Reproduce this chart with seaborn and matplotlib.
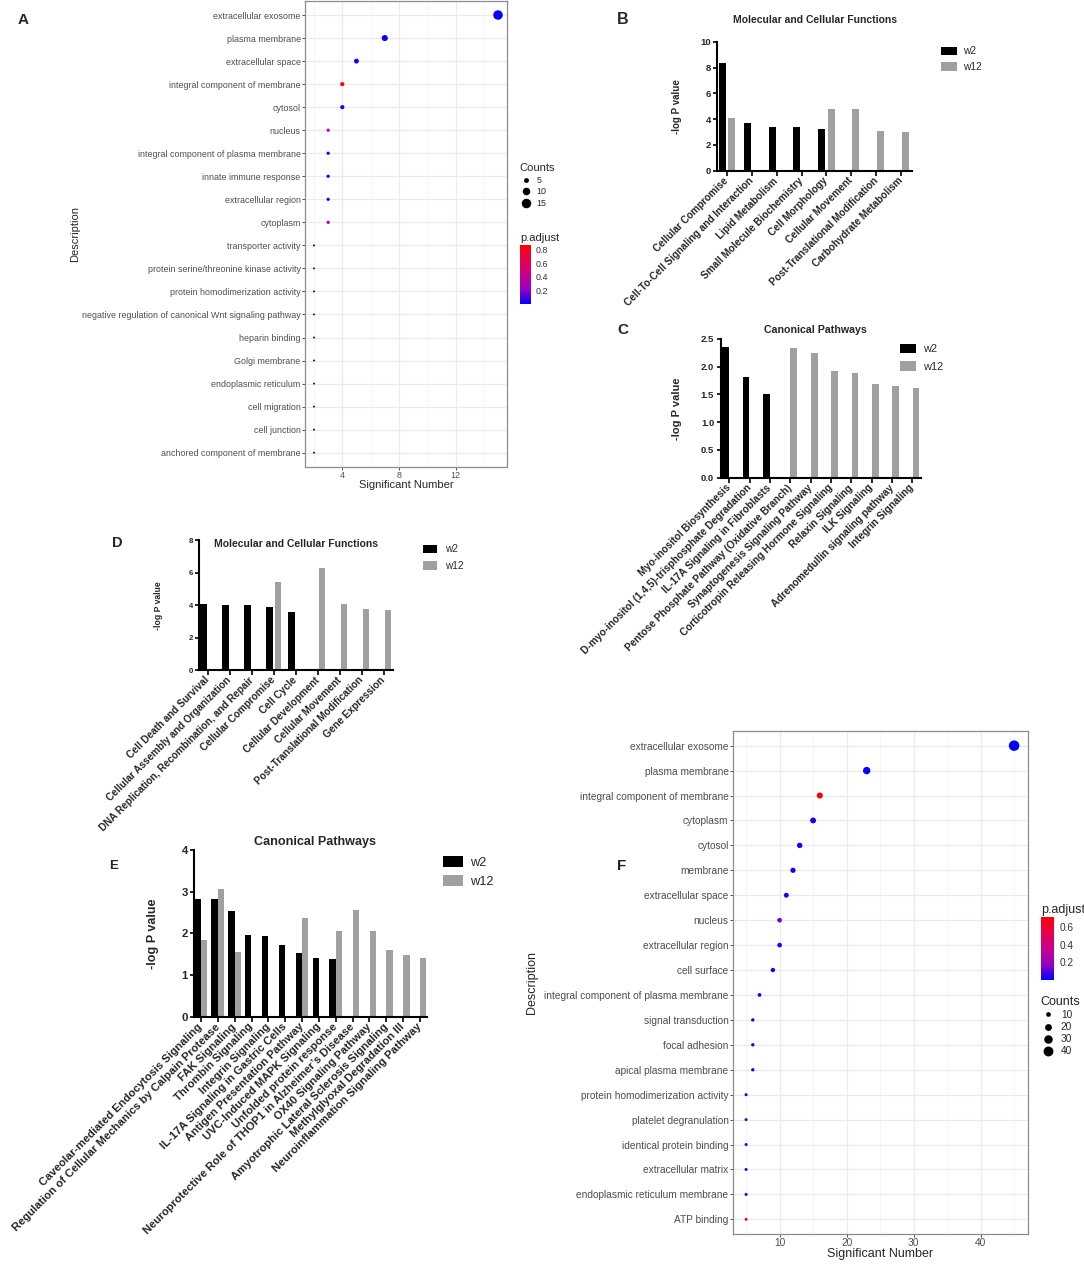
import numpy as np
import pandas as pd
import matplotlib
matplotlib.use("Agg")
import matplotlib.pyplot as plt
import seaborn as sns
from matplotlib.cm import ScalarMappable
from matplotlib.colors import LinearSegmentedColormap, Normalize
from matplotlib.lines import Line2D
from matplotlib.patches import Patch

nan = np.nan

# A: GO terms, first time point
a_terms = ["extracellular exosome", "plasma membrane", "extracellular space",
           "integral component of membrane", "cytosol", "nucleus",
           "integral component of plasma membrane", "innate immune response",
           "extracellular region", "cytoplasm", "transporter activity",
           "protein serine/threonine kinase activity", "protein homodimerization activity",
           "negative regulation of canonical Wnt signaling pathway", "heparin binding",
           "Golgi membrane", "endoplasmic reticulum", "cell migration", "cell junction",
           "anchored component of membrane"]
a_counts = [15, 7, 5, 4, 4, 3, 3, 3, 3, 3, 2, 2, 2, 2, 2, 2, 2, 2, 2, 2]
a_padj = [0.01, 0.02, 0.03, 0.86, 0.03, 0.30, 0.04, 0.04, 0.04, 0.32,
          0.05, 0.05, 0.05, 0.05, 0.05, 0.05, 0.05, 0.05, 0.05, 0.05]

# F: GO terms, second time point
f_terms = ["extracellular exosome", "plasma membrane", "integral component of membrane",
           "cytoplasm", "cytosol", "membrane", "extracellular space", "nucleus",
           "extracellular region", "cell surface", "integral component of plasma membrane",
           "signal transduction", "focal adhesion", "apical plasma membrane",
           "protein homodimerization activity", "platelet degranulation",
           "identical protein binding", "extracellular matrix",
           "endoplasmic reticulum membrane", "ATP binding"]
f_counts = [45, 23, 16, 15, 13, 12, 11, 10, 10, 9, 7, 6, 6, 6, 5, 5, 5, 5, 5, 5]
f_padj = [0.0, 0.01, 0.72, 0.02, 0.02, 0.02, 0.03, 0.14, 0.03, 0.03,
          0.03, 0.04, 0.04, 0.04, 0.04, 0.04, 0.04, 0.04, 0.04, 0.42]

# B: molecular and cellular functions
b_terms = ["Cellular Compromise", "Cell-To-Cell Signaling and Interaction", "Lipid Metabolism",
           "Small Molecule Biochemistry", "Cell Morphology", "Cellular Movement",
           "Post-Translational Modification", "Carbohydrate Metabolism"]
b_w2 = [8.35, 3.72, 3.36, 3.36, 3.20, nan, nan, nan]
b_w12 = [4.06, nan, nan, nan, 4.75, 4.75, 3.08, 2.97]

# C: canonical pathways
c_terms = ["Myo-inositol Biosynthesis", "D-myo-inositol (1,4,5)-trisphosphate Degradation",
           "IL-17A Signaling in Fibroblasts", "Pentose Phosphate Pathway (Oxidative Branch)",
           "Synaptogenesis Signaling Pathway", "Corticotropin Releasing Hormone Signaling",
           "Relaxin Signaling", "ILK Signaling", "Adrenomedullin signaling pathway",
           "Integrin Signaling"]
c_w2 = [2.36, 1.82, 1.51, nan, nan, nan, nan, nan, nan, nan]
c_w12 = [nan, nan, nan, 2.33, 2.25, 1.92, 1.89, 1.69, 1.66, 1.61]

# D: molecular and cellular functions
d_terms = ["Cell Death and Survival", "Cellular Assembly and Organization",
           "DNA Replication, Recombination, and Repair", "Cellular Compromise", "Cell Cycle",
           "Cellular Development", "Cellular Movement", "Post-Translational Modification",
           "Gene Expression"]
d_w2 = [4.07, 3.99, 3.99, 3.91, 3.56, nan, nan, nan, nan]
d_w12 = [nan, nan, nan, 5.41, nan, 6.28, 4.06, 3.75, 3.69]

# E: canonical pathways
e_terms = ["Caveolar-mediated Endocytosis Signaling",
           "Regulation of Cellular Mechanics by Calpain Protease", "FAK Signaling",
           "Thrombin Signaling", "Integrin Signaling", "IL-17A Signaling in Gastric Cells",
           "Antigen Presentation Pathway", "UVC-Induced MAPK Signaling",
           "Unfolded protein response", "Neuroprotective Role of THOP1 in Alzheimer\u2019s Disease",
           "OX40 Signaling Pathway", "Amyotrophic Lateral Sclerosis Signaling",
           "Methylglyoxal Degradation III", "Neuroinflammation Signaling Pathway"]
e_w2 = [2.82, 2.82, 2.54, 1.96, 1.94, 1.71, 1.54, 1.41, 1.39, nan, nan, nan, nan, nan]
e_w12 = [1.85, 3.07, 1.56, nan, nan, nan, 2.37, nan, 2.06, 2.56, 2.06, 1.61, 1.47, 1.42]

W, H = 1084, 1265
sns.set_theme(style="white")
plt.rcParams["font.family"] = ["Liberation Sans", "DejaVu Sans"]

BAR_COLORS = {"w2": "#000000", "w12": "#A0A0A0"}
go_cmap = LinearSegmentedColormap.from_list(
    "go", ["#0000FF", "#9900C2", "#C80088", "#E7004F", "#FF0000"])

fig = plt.figure(figsize=(W / 100, H / 100), dpi=100)


def box(x0, y0, x1, y1):
    # pixel box, origin top-left -> figure fraction rect
    return [x0 / W, 1 - y1 / H, (x1 - x0) / W, (y1 - y0) / H]


def fxy(x, y):
    return x / W, 1 - y / H


def long_frame(terms, w2, w12):
    df = pd.DataFrame({"term": terms, "w2": w2, "w12": w12})
    df = df.melt(id_vars="term", var_name="group", value_name="value")
    return df.dropna()


def dot_panel(bounds, terms, counts, padj, xlim, xmajor, xminor, s_range, tick_fs, title_fs,
              desc_x, xlab_y, cbar_box, cbar_ticks, cbar_pad, counts_xy, count_levels, leg_kw):
    ax = fig.add_axes(box(*bounds))
    df = pd.DataFrame({"Description": terms, "Count": counts, "padj": padj})
    norm = Normalize(min(padj), max(padj))
    cnorm = (min(counts), max(counts))
    sns.scatterplot(data=df, x="Count", y="Description", hue="padj", palette=go_cmap,
                    hue_norm=norm, size="Count", sizes=s_range, size_norm=cnorm,
                    linewidth=0, legend=False, ax=ax, zorder=3)
    ax.set_xlim(*xlim)
    ax.set_ylim(len(terms) - 0.4, -0.6)
    ax.set_xticks(xmajor)
    ax.set_xticks(xminor, minor=True)
    ax.grid(which="major", color="#EBEBEB", lw=0.9)
    ax.grid(which="minor", axis="x", color="#F3F3F3", lw=0.5)
    ax.set_axisbelow(True)
    for sp in ax.spines.values():
        sp.set_visible(True)
        sp.set_color("#8C8C8C")
        sp.set_linewidth(0.9)
    ax.tick_params(which="major", left=True, bottom=True, length=2, width=0.6,
                   color="#333333", labelcolor="#4D4D4D", labelsize=tick_fs, pad=1)
    ax.tick_params(which="minor", length=0)
    x0, y0, x1, y1 = bounds
    ax.set_xlabel("Significant Number", fontsize=title_fs, va="center")
    ax.set_ylabel("Description", fontsize=title_fs, va="center")
    ax.xaxis.set_label_coords(0.5, -(xlab_y - y1) / (y1 - y0))
    ax.yaxis.set_label_coords((desc_x - x0) / (x1 - x0), 0.5)

    cax = fig.add_axes(box(*cbar_box))
    cb = fig.colorbar(ScalarMappable(norm=norm, cmap=go_cmap), cax=cax)
    cb.outline.set_visible(False)
    cb.set_ticks(cbar_ticks)
    cb.set_ticklabels([f"{t:.1f}" for t in cbar_ticks])
    cax.tick_params(left=True, right=True, length=2.2, width=0.6, color="white",
                    direction="in", labelsize=tick_fs, labelcolor="#333333", pad=cbar_pad)
    cax.set_title("p.adjust", loc="left", fontsize=title_fs, pad=3)

    smin, smax = s_range
    cmin, cmax = cnorm
    handles = [Line2D([], [], ls="", marker="o", color="black", markeredgewidth=0,
                      markersize=np.sqrt(smin + (c - cmin) / (cmax - cmin) * (smax - smin)))
               for c in count_levels]
    ax.legend(handles, [str(c) for c in count_levels], title="Counts", loc="upper left",
              bbox_to_anchor=fxy(*counts_xy), bbox_transform=fig.transFigure, frameon=False,
              fontsize=tick_fs, title_fontsize=title_fs, alignment="left", borderpad=0,
              borderaxespad=0, **leg_kw)
    return ax


def bar_panel(bounds, terms, w2, w12, ymax, ystep, yfmt, xpad, width, gap, fs,
              title, title_xy, ylab_x, legend_xy, leg_kw):
    ax = fig.add_axes(box(*bounds))
    df = long_frame(terms, w2, w12)
    sns.barplot(data=df, x="term", y="value", hue="group", order=terms,
                hue_order=["w2", "w12"], palette=BAR_COLORS, width=width, gap=gap,
                dodge=True, errorbar=None, linewidth=0, legend=False, ax=ax)
    ax.set_xlim(-xpad[0], len(terms) - 1 + xpad[1])
    ax.set_ylim(0, ymax)
    ticks = np.arange(0, ymax + ystep / 2, ystep)
    ax.set_yticks(ticks)
    ax.set_yticklabels([yfmt.format(t) for t in ticks], fontsize=fs["ytick"], fontweight="bold")
    ax.set_xticks(range(len(terms)))
    ax.set_xticklabels(terms, rotation=45, ha="right", va="center", rotation_mode="anchor",
                       fontsize=fs["xtick"], fontweight="bold")
    for side in ("top", "right"):
        ax.spines[side].set_visible(False)
    for side in ("left", "bottom"):
        ax.spines[side].set_color("black")
        ax.spines[side].set_linewidth(1.5)
    ax.tick_params(axis="y", left=True, length=3.2, width=1.2, pad=1.5, color="black")
    ax.tick_params(axis="x", bottom=True, length=3.6, width=1.2, pad=2.5, color="black")
    ax.set_xlabel("")
    x0, y0, x1, y1 = bounds
    ax.set_ylabel("-log P value", fontsize=fs["ylabel"], fontweight="bold", va="center")
    ax.yaxis.set_label_coords((ylab_x - x0) / (x1 - x0), 0.5)
    fig.text(*fxy(*title_xy), title, ha="center", va="center",
             fontsize=fs["title"], fontweight="bold")
    handles = [Patch(facecolor=BAR_COLORS[g], edgecolor="none") for g in ("w2", "w12")]
    ax.legend(handles, ["w2", "w12"], loc="upper left", bbox_to_anchor=fxy(*legend_xy),
              bbox_transform=fig.transFigure, frameon=False, fontsize=fs["legend"],
              borderpad=0, borderaxespad=0, **leg_kw)
    return ax


# ggplot-style dot plots
dot_panel((304.8, 1.2, 507.2, 466.5), a_terms, a_counts, a_padj,
          xlim=(1.35, 15.65), xmajor=[4, 8, 12], xminor=[2, 6, 10, 14],
          s_range=(2.1, 46.8), tick_fs=6.4, title_fs=8.0, desc_x=75, xlab_y=485,
          cbar_box=(519.8, 245, 531.2, 304), cbar_ticks=[0.2, 0.4, 0.6, 0.8], cbar_pad=3.5,
          counts_xy=(519, 163), count_levels=[5, 10, 15],
          leg_kw=dict(handlelength=1.5, handletextpad=0.45, labelspacing=0.3))

dot_panel((732.7, 730.7, 1027.5, 1234.3), f_terms, f_counts, f_padj,
          xlim=(3, 47), xmajor=[10, 20, 30, 40], xminor=[5, 15, 25, 35, 45],
          s_range=(4.7, 57.2), tick_fs=7.3, title_fs=9.0, desc_x=532, xlab_y=1254,
          cbar_box=(1041.4, 916.7, 1053.5, 980), cbar_ticks=[0.2, 0.4, 0.6], cbar_pad=4.5,
          counts_xy=(1040.7, 996), count_levels=[10, 20, 30, 40],
          leg_kw=dict(handlelength=1.37, handletextpad=0.62, labelspacing=0.2))

# Prism-style bar charts
bar_panel((717.3, 41.7, 911.7, 170.7), b_terms, b_w2, b_w12, 10, 2, "{:.0f}", (0.39, 0.43),
          0.74, 0.24, dict(title=7.5, ylabel=7.0, ytick=6.8, xtick=7.2, legend=7.3),
          "Molecular and Cellular Functions", (815, 20), 677, (941, 46.5),
          dict(handlelength=1.55, handleheight=0.95, handletextpad=0.62, labelspacing=0.55))

bar_panel((720.7, 339, 920.7, 477.7), c_terms, c_w2, c_w12, 2.5, 0.5, "{:.1f}", (0.42, 0.41),
          0.70, 0.06, dict(title=7.7, ylabel=8.0, ytick=6.8, xtick=7.3, legend=7.9),
          "Canonical Pathways", (815, 330), 676.7, (900, 343.5),
          dict(handlelength=1.43, handleheight=1.02, handletextpad=0.64, labelspacing=0.6))

bar_panel((199.3, 540.3, 393.3, 670), d_terms, d_w2, d_w12, 8, 2, "{:.0f}", (0.38, 0.44),
          0.78, 0.205, dict(title=7.5, ylabel=6.2, ytick=5.6, xtick=7.2, legend=7.2),
          "Molecular and Cellular Functions", (296.5, 544.3), 158.3, (422.7, 544.5),
          dict(handlelength=1.4, handleheight=0.95, handletextpad=0.83, labelspacing=0.65))

bar_panel((194.3, 850, 426.7, 1016.7), e_terms, e_w2, e_w12, 4, 1, "{:.0f}", (0.40, 0.40),
          0.77, 0.026, dict(title=9.1, ylabel=9.1, ytick=8.2, xtick=8.1, legend=9.2),
          "Canonical Pathways", (315, 841.7), 153.3, (443.3, 856),
          dict(handlelength=1.52, handleheight=0.95, handletextpad=0.57, labelspacing=0.5))

# panel letters
for letter, (lx, ly), size in [("A", (23.5, 20.5), 11), ("B", (622.7, 19), 11.5),
                               ("C", (623, 329.5), 11), ("D", (117.7, 543), 10.5),
                               ("E", (113.3, 866), 9.5), ("F", (621.4, 866), 11)]:
    fig.text(*fxy(lx, ly), letter, ha="center", va="center", fontsize=size, fontweight="bold")

fig.savefig("out.png", dpi=100)
